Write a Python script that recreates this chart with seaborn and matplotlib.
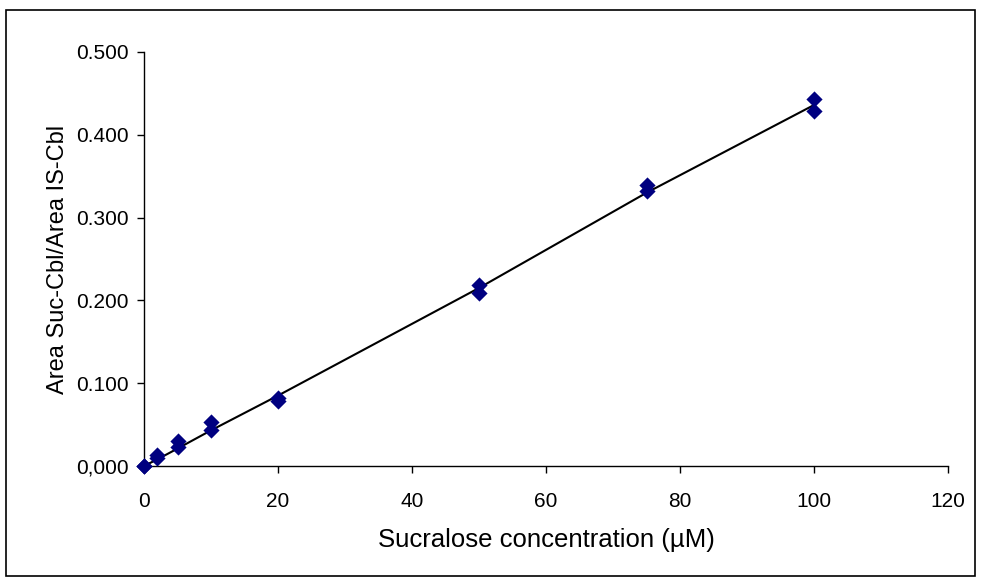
import matplotlib
matplotlib.use("Agg")
import matplotlib.pyplot as plt
import numpy as np
import pandas as pd
import seaborn as sns

# ---- data ------------------------------------------------------------
conc = [0, 0, 2, 2, 5, 5, 10, 10, 20, 20, 50, 50, 75, 75, 100, 100]
ratio = [0.000, 0.000, 0.013, 0.010, 0.030, 0.023, 0.053, 0.044,
         0.082, 0.079, 0.219, 0.209, 0.339, 0.332, 0.443, 0.429]

fit_conc = [0, 2, 5, 10, 20, 50, 75, 100]
fit_ratio = [0.000, 0.008, 0.021, 0.043, 0.085, 0.215, 0.330, 0.436]

ytick_vals = [0.0, 0.1, 0.2, 0.3, 0.4, 0.5]
ytick_labels = ["0,000", "0.100", "0.200", "0.300", "0.400", "0.500"]
xtick_vals = [0, 20, 40, 60, 80, 100, 120]

df = pd.DataFrame({"conc": conc, "ratio": ratio})
fit = pd.DataFrame({"conc": fit_conc, "ratio": fit_ratio})

sns.set_style("ticks")
plt.rcParams["font.family"] = ["Liberation Sans", "DejaVu Sans"]
plt.rcParams["text.color"] = "black"
plt.rcParams["axes.labelcolor"] = "black"
plt.rcParams["xtick.color"] = "black"
plt.rcParams["ytick.color"] = "black"

fig = plt.figure(figsize=(9.81, 5.81), dpi=100)
ax = fig.add_axes([0.1468, 0.198, 0.8196, 0.7125])

# ---- fitted line + replicate points ----------------------------------
sns.lineplot(data=fit, x="conc", y="ratio", color="black", lw=1.5,
             ax=ax, zorder=2)
sns.scatterplot(data=df, x="conc", y="ratio", marker="D", s=68,
                color="#000080", edgecolor="#000080", linewidth=0,
                ax=ax, zorder=3, clip_on=False)

ax.set_xlim(0, 120)
ax.set_ylim(0, 0.5)
ax.set_xticks(xtick_vals)
ax.set_yticks(ytick_vals)
ax.set_yticklabels(ytick_labels)
ax.tick_params(axis="both", labelsize=15, length=5, width=1,
               color="black", labelcolor="black", direction="out")
ax.tick_params(axis="x", pad=14)
ax.tick_params(axis="y", pad=6)
for side in ("top", "right"):
    ax.spines[side].set_visible(False)
for side in ("left", "bottom"):
    ax.spines[side].set_color("black")
    ax.spines[side].set_linewidth(1)

ax.set_xlabel("Sucralose concentration (µM)", fontsize=18.5, labelpad=12)
ax.set_ylabel("Area Suc-Cbl/Area IS-Cbl", fontsize=17, labelpad=5)

# outer chart border
fig.patches.append(plt.Rectangle((0.006, 0.009), 0.988, 0.974,
                                 transform=fig.transFigure, fill=False,
                                 edgecolor="black", lw=1.2))

fig.savefig("out.png", dpi=100)
